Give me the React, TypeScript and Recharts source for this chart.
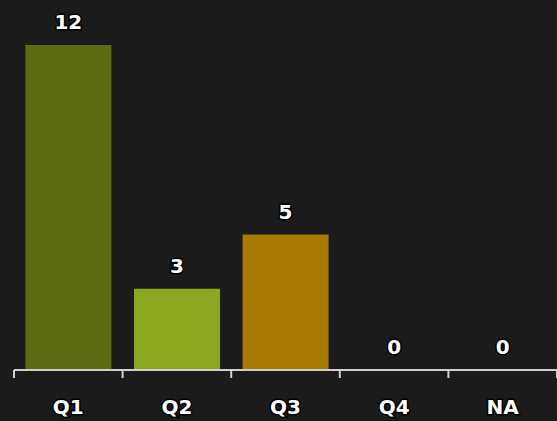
import React from 'react';
import { ComposedChart, Bar, Line, XAxis, YAxis, Cell, LabelList } from 'recharts';

const categories = ['Q1', 'Q2', 'Q3', 'Q4', 'NA'];
const counts = [12, 3, 5, 0, 0];
const barColors = ['#5d6b13', '#8ba61f', '#a97b00', '#a97b00', '#a97b00'];

const data = categories.map((c, i) => ({ name: c, value: counts[i] }));

const AXIS_COLOR = '#cfcfcf';
const FONT = 'DejaVu Sans, Verdana, sans-serif';

const CustomTick = (props: any) => {
  const { x, y, payload, index } = props;
  const half = payload && payload.offset ? payload.offset : 0;
  const top = y - 8;
  return (
    <g>
      <line x1={x - half} y1={top} x2={x - half} y2={top + 8} stroke={AXIS_COLOR} strokeWidth={2} />
      {index === categories.length - 1 && (
        <line x1={x + half} y1={top} x2={x + half} y2={top + 8} stroke={AXIS_COLOR} strokeWidth={2} />
      )}
      <text
        x={x}
        y={y + 36}
        textAnchor="middle"
        fill="#ffffff"
        stroke="#000000"
        strokeWidth={3}
        paintOrder="stroke"
        fontFamily={FONT}
        fontWeight="bold"
        fontSize={20}
      >
        {payload.value}
      </text>
    </g>
  );
};

export default function App() {
  return (
    <div style={{ position: 'fixed', top: 0, left: 0, background: '#1b1b1b', width: 557, height: 421 }}>
      <ComposedChart
        width={557}
        height={421}
        data={data}
        margin={{ top: 45, right: 0, bottom: 0, left: 14 }}
        barCategoryGap="10.5%"
      >
        <YAxis hide domain={[0, 12]} />
        <XAxis
          dataKey="name"
          height={51}
          axisLine={{ stroke: AXIS_COLOR, strokeWidth: 2 }}
          tickLine={false}
          tick={<CustomTick />}
          interval={0}
        />
        <Bar dataKey="value" isAnimationActive={false}>
          {data.map((d, i) => (
            <Cell key={d.name} fill={barColors[i]} />
          ))}
        </Bar>
        <Line dataKey="value" stroke="none" dot={false} activeDot={false} isAnimationActive={false}>
          <LabelList
            dataKey="value"
            position="top"
            offset={16}
            fill="#ffffff"
            stroke="#000000"
            strokeWidth={3}
            style={{ paintOrder: 'stroke' }}
            fontFamily={FONT}
            fontWeight="bold"
            fontSize={20}
          />
        </Line>
      </ComposedChart>
    </div>
  );
}
